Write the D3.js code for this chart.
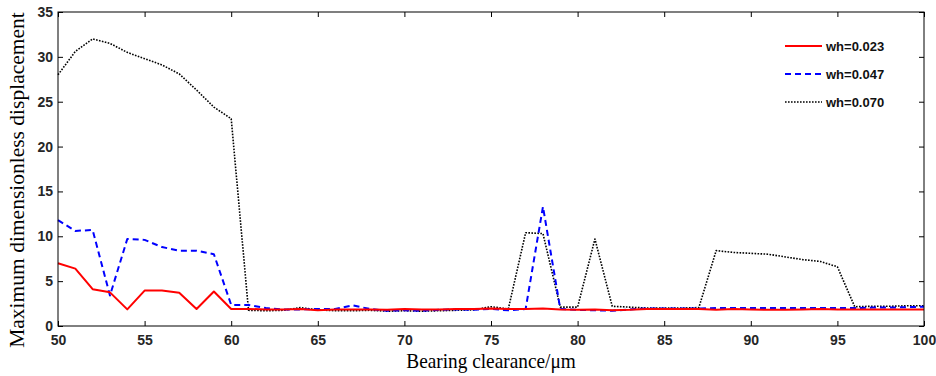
<!DOCTYPE html>
<html><head><meta charset="utf-8">
<script src="https://cdn.jsdelivr.net/npm/d3@7"></script>
<style>body{margin:0;background:#fff}svg{display:block}</style>
</head><body>
<svg id="c" width="936" height="376"></svg>
<script>
const clearance = d3.range(50, 101, 1);
const wh023 = [7.0,6.4,4.1,3.75,1.85,3.95,3.95,3.7,1.9,3.85,1.9,1.9,1.85,1.85,1.9,1.75,1.85,1.85,1.85,1.8,1.9,1.85,1.85,1.9,1.9,1.95,1.9,1.9,1.95,1.85,1.8,1.85,1.75,1.8,1.9,1.9,1.9,1.9,1.8,1.9,1.85,1.8,1.8,1.85,1.9,1.85,1.85,1.85,1.85,1.85,1.85];
const wh047 = [11.8,10.6,10.7,3.4,9.7,9.6,8.8,8.4,8.4,8.0,2.35,2.35,2.0,1.85,1.85,1.9,1.9,2.3,1.9,1.7,1.75,1.7,1.8,1.85,1.8,1.9,1.75,1.9,13.3,1.9,1.8,1.75,1.7,1.85,1.95,1.95,1.95,1.95,2.0,2.0,2.0,2.0,2.0,2.0,2.0,2.0,2.0,2.05,2.05,2.1,2.15];
const wh070 = [28.0,30.6,32.0,31.5,30.5,29.8,29.1,28.1,26.3,24.4,23.1,1.75,1.7,1.75,2.05,1.8,1.7,1.7,1.75,1.65,1.7,1.65,1.7,1.75,1.8,2.15,1.9,10.4,10.3,2.1,2.1,9.7,2.2,2.1,2.0,2.0,2.0,2.05,8.4,8.2,8.1,8.0,7.7,7.4,7.2,6.6,2.15,2.2,2.2,2.25,2.25];
const seriesNames = ["wh=0.023","wh=0.047","wh=0.070"];
const xTicks = [50,55,60,65,70,75,80,85,90,95,100];
const yTicks = [0,5,10,15,20,25,30,35];

const svg = d3.select("#c");
const L=58, R=924, T=12, B=326;
const x = d3.scaleLinear().domain([50,100]).range([L,R]);
const y = d3.scaleLinear().domain([0,35]).range([B,T]);

const styles = [
  {color:"#ff0000", width:2, dash:null},
  {color:"#0000ff", width:2, dash:"6,4"},
  {color:"#000000", width:1.6, dash:"1.6,1.4"}
];
const data = [wh023, wh047, wh070];

const line = d3.line().x((d,i)=>x(clearance[i])).y(d=>y(d));
const g = svg.append("g");
[2,1,0].forEach(k=>{
  g.append("path").attr("d", line(data[k])).attr("fill","none")
   .attr("stroke", styles[k].color).attr("stroke-width", styles[k].width)
   .attr("stroke-dasharray", styles[k].dash).attr("stroke-linejoin","round");
});

const tickFont = "'Liberation Sans', Arial, sans-serif";
const ax = svg.append("g");
ax.append("g").attr("transform",`translate(0,${B})`)
  .call(d3.axisBottom(x).tickValues(xTicks).tickSizeInner(-5).tickSizeOuter(0).tickPadding(9))
  .call(s=>{s.select(".domain").remove();});
ax.append("g").attr("transform",`translate(0,${T})`)
  .call(d3.axisTop(x).tickValues(xTicks).tickSizeInner(-5).tickSizeOuter(0).tickFormat(""))
  .call(s=>{s.select(".domain").remove();});
ax.append("g").attr("transform",`translate(${L},0)`)
  .call(d3.axisLeft(y).tickValues(yTicks).tickSizeInner(-5).tickSizeOuter(0).tickPadding(5))
  .call(s=>{s.select(".domain").remove();});
ax.append("g").attr("transform",`translate(${R},0)`)
  .call(d3.axisRight(y).tickValues(yTicks).tickSizeInner(-5).tickSizeOuter(0).tickFormat(""))
  .call(s=>{s.select(".domain").remove();});
ax.selectAll(".tick line").attr("stroke","#000");
ax.selectAll(".tick text").attr("font-family",tickFont).attr("font-weight","bold")
  .attr("font-size",14).attr("fill","#262626");
ax.append("rect").attr("x",L).attr("y",T).attr("width",R-L).attr("height",B-T)
  .attr("fill","none").attr("stroke","#000").attr("stroke-width",1);

svg.append("g").attr("transform",`translate(${(L+R)/2},368) scale(0.92,1)`)
  .append("text").attr("x",0).attr("y",0).attr("text-anchor","middle")
  .attr("font-family","'Liberation Serif', 'Times New Roman', serif").attr("font-size",21)
  .text("Bearing clearance/μm");
svg.append("text").attr("transform",`translate(24,180) rotate(-90)`).attr("text-anchor","middle")
  .attr("font-family","'Liberation Serif', 'Times New Roman', serif").attr("font-size",21.5)
  .text("Maximum dimensionless displacement");

const lg = svg.append("g");
seriesNames.forEach((n,k)=>{
  const yy = 46 + k*28;
  lg.append("line").attr("x1",785).attr("x2",822).attr("y1",yy).attr("y2",yy)
    .attr("stroke",styles[k].color).attr("stroke-width",styles[k].width)
    .attr("stroke-dasharray",styles[k].dash);
  lg.append("text").attr("x",826).attr("y",yy+4.5).attr("font-family",tickFont)
    .attr("font-weight","bold").attr("font-size",13).attr("fill","#111").text(n);
});
</script>
</body></html>
